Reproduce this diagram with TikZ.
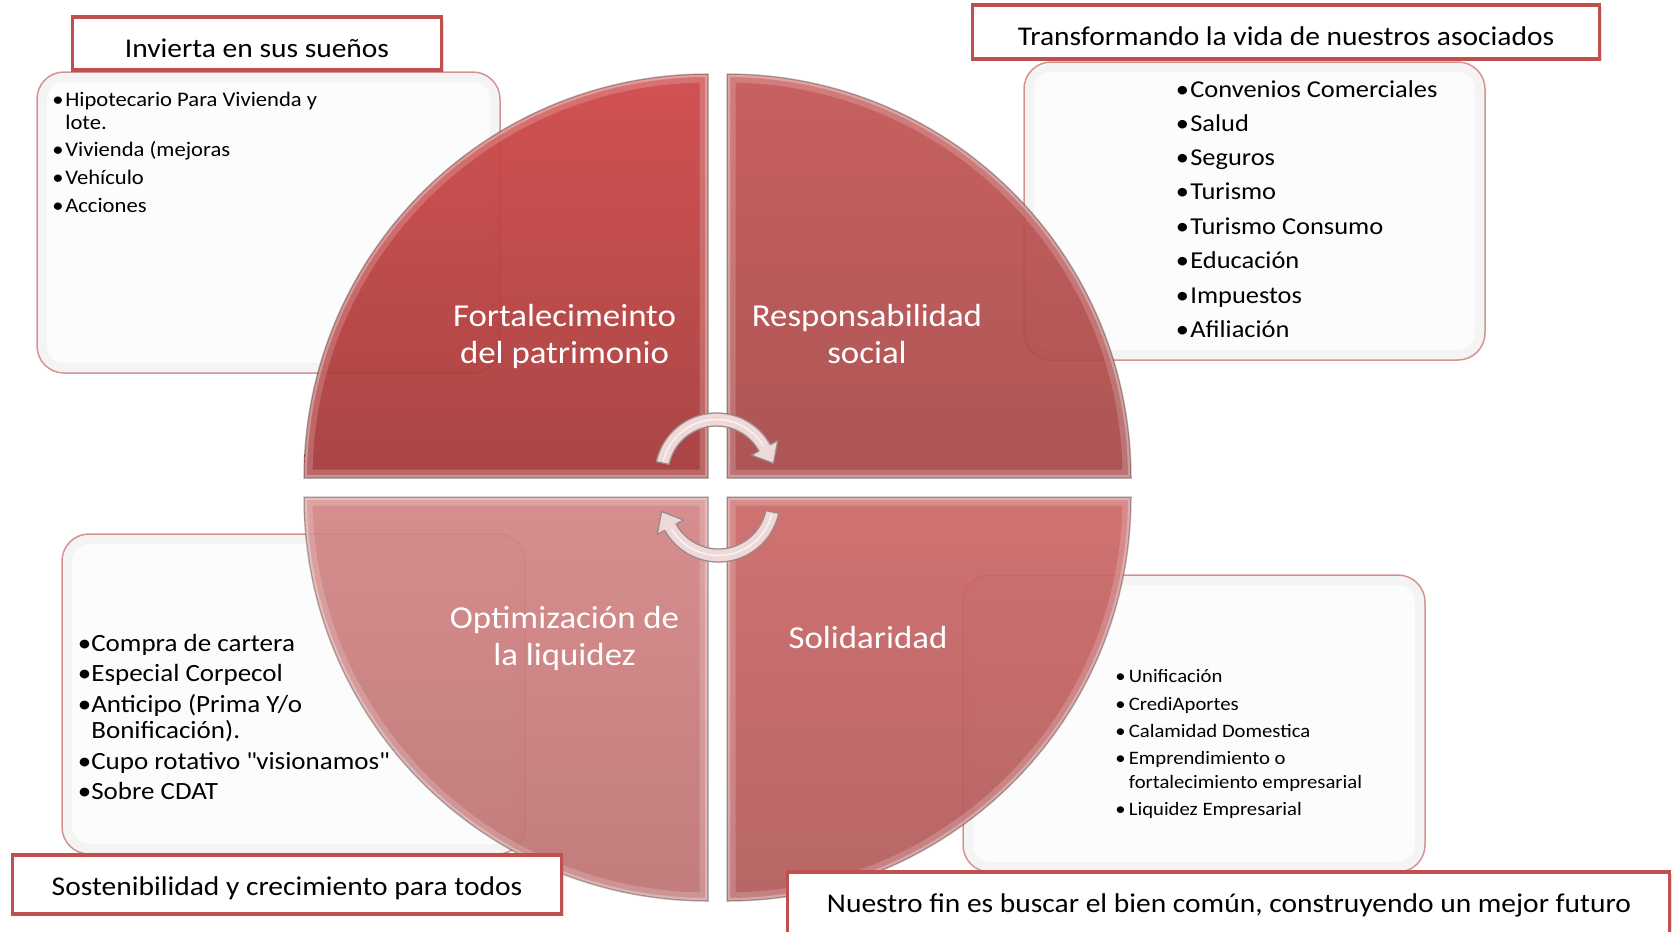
\documentclass[tikz,border=0pt]{standalone}
\usepackage{fontspec}
\setmainfont{Carlito}[FakeStretch=1.09]
\usetikzlibrary{shadows}

\definecolor{accent}{HTML}{C0504D}
\definecolor{tltop}{HTML}{CE4545}
\definecolor{tlbot}{HTML}{A43737}
\definecolor{trtop}{HTML}{C45555}
\definecolor{trbot}{HTML}{A64747}
\definecolor{bltop}{HTML}{D38585}
\definecolor{blbot}{HTML}{BE7272}
\definecolor{brtop}{HTML}{CC6767}
\definecolor{brbot}{HTML}{B25A5A}
\definecolor{arrowfill}{HTML}{EED8D8}
\definecolor{arrowline}{HTML}{9C8888}

\tikzset{
  titlebox/.style={draw=accent, line width=0.07cm, fill=white,
    drop shadow={opacity=0.25, shadow xshift=0.04cm, shadow yshift=-0.04cm}},
  titletext/.style={anchor=base, inner sep=0pt, font=\fontsize{15.4}{18}\selectfont},
  listbox/.style={draw=accent!60, line width=0.03cm, fill=black!1, rounded corners=0.54cm},
  quadlabel/.style={anchor=base, inner sep=0pt, text=white, font=\fontsize{18.2}{21.6}\selectfont},
  entry/.style={anchor=base west, inner sep=0pt},
  bul/.style={anchor=base, inner sep=0pt},
  cyclearrow/.style={fill=arrowfill, draw=arrowline, line width=0.025cm, line join=round},
}

\begin{document}
\begin{tikzpicture}[x=0.02cm,y=-0.02cm]
\useasboundingbox (0,0) rectangle (1673,931);

% boxes behind the circle
\foreach \xa/\ya/\xb/\yb in {37/72/500/373, 1024/62/1485/360, 62/534/525/854, 963/575/1425/872} {
  \draw[listbox] (\xa,\ya) rectangle (\xb,\yb);
  \begin{scope}
    \clip[rounded corners=0.54cm] (\xa,\ya) rectangle (\xb,\yb);
    \draw[black, opacity=0.03, line width=0.4cm, rounded corners=0.54cm] (\xa,\ya) rectangle (\xb,\yb);
  \end{scope}
}

% four quarters
\foreach \cx/\cy/\sa/\ctop/\cbot in {708/478/180/tltop/tlbot, 727/478/270/trtop/trbot,
                                     708/497/90/bltop/blbot, 727/497/0/brtop/brbot} {
  \shade[top color=\ctop, bottom color=\cbot, fill opacity=0.93]
    (\cx,\cy) -- ++(\sa:404) arc[start angle=\sa, end angle=\sa+90, radius=404] -- cycle;
  \begin{scope}
    \clip (\cx,\cy) -- ++(\sa:404) arc[start angle=\sa, end angle=\sa+90, radius=404] -- cycle;
    \draw[white, opacity=0.18, line width=0.34cm]
      (\cx,\cy) -- ++(\sa:404) arc[start angle=\sa, end angle=\sa+90, radius=404] -- cycle;
    \draw[white, opacity=0.3, line width=0.12cm]
      (\cx,\cy) -- ++(\sa:404) arc[start angle=\sa, end angle=\sa+90, radius=404] -- cycle;
  \end{scope}
  \draw[black, opacity=0.25, line width=0.03cm]
    (\cx,\cy) -- ++(\sa:404) arc[start angle=\sa, end angle=\sa+90, radius=404] -- cycle;
}

% turning arrows in the middle
\begin{scope}[shift={(716.5,474.5)}]
  \draw[cyclearrow] (192:61.5) arc[start angle=192, end angle=331, radius=61.5]
    -- (331:70) -- (349:58) -- (331:40) -- (331:48.5)
    arc[start angle=331, end angle=192, radius=48.5] -- cycle;
  \draw[white, line width=0.03cm, opacity=0.7] (194:55) arc[start angle=194, end angle=329, radius=55];
\end{scope}
\begin{scope}[shift={(718.5,500.5)}]
  \draw[cyclearrow] (12:61.5) arc[start angle=12, end angle=151, radius=61.5]
    -- (151:70) -- (169:58) -- (151:40) -- (151:48.5)
    arc[start angle=151, end angle=12, radius=48.5] -- cycle;
  \draw[white, line width=0.03cm, opacity=0.7] (14:55) arc[start angle=14, end angle=149, radius=55];
\end{scope}

% quarter labels
\node[quadlabel] (fort) at (564.5,326) {\begin{tabular}[t]{@{}c@{}}Fortalecimeinto\\del patrimonio\end{tabular}};
\node[quadlabel] (resp) at (867,326) {\begin{tabular}[t]{@{}c@{}}Responsabilidad\\social\end{tabular}};
\node[quadlabel] (opti) at (564.5,628) {\begin{tabular}[t]{@{}c@{}}Optimización de\\la liquidez\end{tabular}};
\node[quadlabel] (soli) at (868,648) {Solidaridad};

% top left list
\foreach \yy in {106,156,184,212}
  \node[bul, font=\fontsize{11.8}{14}\selectfont] (tlb\yy) at (58,\yy) {•};
\foreach \yy/\txt in {106/Hipotecario Para Vivienda y, 129/lote., 156/Vivienda (mejoras,
                      184/Vehículo, 212/Acciones}
  \node[entry, font=\fontsize{11.8}{14}\selectfont] (tl\yy) at (65,\yy) {\txt};

% top right list
\foreach \yy/\txt in {97/Convenios Comerciales, 131/Salud, 165/Seguros, 199/Turismo,
                      234/Turismo Consumo, 268/Educación, 303/Impuestos, 337/Afiliación} {
  \node[bul, font=\fontsize{13.8}{16}\selectfont] (trb\yy) at (1182.5,\yy) {•};
  \node[entry, font=\fontsize{13.8}{16}\selectfont] (tr\yy) at (1190,\yy) {\txt};
}

% bottom left list
\foreach \yy in {651,681,712,769,799}
  \node[bul, font=\fontsize{14.1}{16}\selectfont] (blb\yy) at (84.5,\yy) {•};
\foreach \yy/\txt in {651/Compra de cartera, 681/Especial Corpecol, 712/{Anticipo (Prima Y/o},
                      738/Bonificación)., 769/Cupo rotativo \textquotedbl visionamos\textquotedbl, 799/Sobre CDAT}
  \node[entry, font=\fontsize{14.1}{16}\selectfont] (bl\yy) at (91,\yy) {\txt};

% bottom right list
\foreach \yy in {682,710,737,764,815}
  \node[bul, font=\fontsize{10.8}{13}\selectfont] (brb\yy) at (1120.5,\yy) {•};
\foreach \yy/\txt in {682/Unificación, 710/CrediAportes, 737/Calamidad Domestica,
                      764/Emprendimiento o, 788/fortalecimiento empresarial, 815/Liquidez Empresarial}
  \node[entry, font=\fontsize{10.8}{13}\selectfont] (br\yy) at (1128.5,\yy) {\txt};

% titles
\draw[titlebox] (72.5,17) rectangle (441.5,70);
\node[titletext] (inv) at (257,57) {Invierta en sus sueños};
\draw[titlebox] (972.5,5) rectangle (1599.5,59);
\node[titletext] (trans) at (1286,45) {Transformando la vida de nuestros asociados};
\draw[titlebox] (12.5,855) rectangle (561.5,914);
\node[titletext] (sost) at (287,895) {Sostenibilidad y crecimiento para todos};
\draw[titlebox] (787.5,872) rectangle (1669.5,940);
\node[titletext] (fin) at (1229,912) {Nuestro fin es buscar el bien común, construyendo un mejor futuro};

\end{tikzpicture}
\end{document}
